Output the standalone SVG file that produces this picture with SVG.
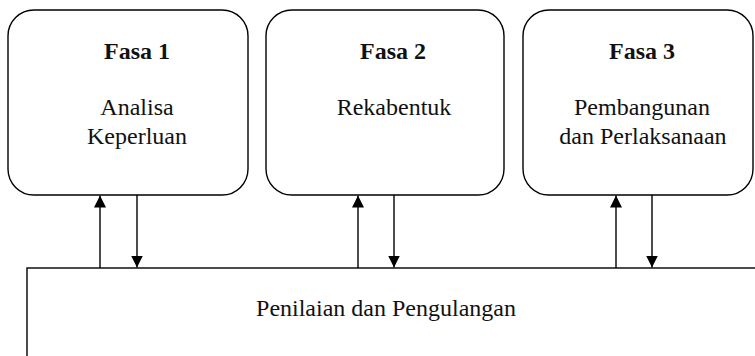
<svg xmlns="http://www.w3.org/2000/svg" width="755" height="356" viewBox="0 0 755 356">
<style>
.box{fill:#fff;stroke:#000;stroke-width:1.4}
.t{font-size:24px;fill:#111;text-anchor:middle}
.b{font-weight:bold;font-size:24px}
.c{stroke:#000;stroke-width:1.4;fill:none}
</style>
<defs>
<marker id="ah" viewBox="0 0 12 12" refX="12" refY="6" markerWidth="12" markerHeight="12" markerUnits="userSpaceOnUse" orient="auto">
<path d="M0,0 L12,6 L0,12 Z" fill="#000"/>
</marker>
</defs>
<g font-family="Liberation Serif, DejaVu Serif, serif">
<g id="fasa1">
<rect class="box" x="8" y="10" width="240" height="185" rx="26"/>
<text class="t b" x="137" y="59">Fasa 1</text>
<text class="t" x="137" y="115">Analisa</text>
<text class="t" x="137" y="144">Keperluan</text>
</g>
<g id="fasa2">
<rect class="box" x="266" y="10" width="238" height="185" rx="26"/>
<text class="t b" x="393" y="59">Fasa 2</text>
<text class="t" x="394" y="115">Rekabentuk</text>
</g>
<g id="fasa3">
<rect class="box" x="523" y="10" width="230" height="185" rx="26"/>
<text class="t b" x="642" y="59">Fasa 3</text>
<text class="t" x="642" y="115">Pembangunan</text>
<text class="t" x="643" y="144">dan Perlaksanaan</text>
</g>
<g id="penilaian">
<rect class="box" x="27" y="268" width="740" height="100"/>
<text class="t" x="386" y="316">Penilaian dan Pengulangan</text>
</g>
</g>
<g id="connectors">
<line class="c" x1="100" y1="268" x2="100" y2="195.5" marker-end="url(#ah)"/>
<line class="c" x1="137" y1="195" x2="137" y2="267.5" marker-end="url(#ah)"/>
<line class="c" x1="358" y1="268" x2="358" y2="195.5" marker-end="url(#ah)"/>
<line class="c" x1="394" y1="195" x2="394" y2="267.5" marker-end="url(#ah)"/>
<line class="c" x1="616" y1="268" x2="616" y2="195.5" marker-end="url(#ah)"/>
<line class="c" x1="652" y1="195" x2="652" y2="267.5" marker-end="url(#ah)"/>
</g>
</svg>
